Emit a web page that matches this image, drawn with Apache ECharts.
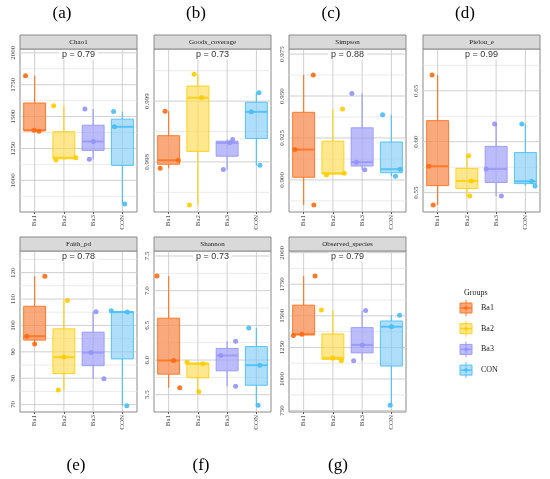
<!DOCTYPE html>
<html>
<head>
<meta charset="utf-8">
<script src="https://cdn.jsdelivr.net/npm/echarts@6/dist/echarts.min.js"></script>
<style>
  html, body { margin: 0; padding: 0; background: #fff; }
  #chart { width: 550px; height: 479px; }
</style>
</head>
<body>
<div id="chart"></div>
<script>
// 分组与指标
const groups = ['Ba1', 'Ba2', 'Ba3', 'CON'];
const metricNames = ['Chao1', 'Goods_coverage', 'Simpson', 'Pielou_e', 'Faith_pd', 'Shannon', 'Observed_species'];
const panelLetters = ['(a)', '(b)', '(c)', '(d)', '(e)', '(f)', '(g)'];
const pValues = ['0.79', '0.73', '0.88', '0.99', '0.78', '0.73', '0.79'];

// 每组三个样本
const chao1 = [[1385, 1393, 1820], [1160, 1178, 1585], [1165, 1305, 1560], [815, 1420, 1540]];
const goods = [[0.997896, 0.998027, 0.998835], [0.997291, 0.999055, 0.99944], [0.997874, 0.998313, 0.998368], [0.997945, 0.998824, 0.999137]];
const simpson = [[0.8851, 0.9181, 0.9625], [0.9030, 0.9040, 0.9422], [0.9060, 0.9106, 0.9515], [0.9022, 0.9064, 0.9388]];
const pielou = [[0.5379, 0.5759, 0.6654], [0.5467, 0.5615, 0.5861], [0.5467, 0.5733, 0.6175], [0.5566, 0.5611, 0.6175]];
const faith = [[93.0, 95.9, 118.6], [75.5, 88.0, 109.4], [79.8, 89.7, 105.2], [69.6, 105.05, 105.55]];
const shannon = [[5.600, 5.993, 7.213], [5.543, 5.945, 5.969], [5.624, 6.065, 6.270], [5.347, 5.926, 6.462]];
const observed = [[1345, 1354, 1815], [1144, 1167, 1546], [1144, 1270, 1543], [792, 1414, 1504]];

// 散点的水平抖动（类别宽度的比例）
const chao1Jitter = [[0.15, -0.02, -0.31], [-0.27, 0.41, -0.35], [-0.13, 0.01, -0.28], [0.08, -0.27, -0.30]];
const goodsJitter = [[-0.29, 0.33, -0.12], [-0.29, 0.13, -0.13], [-0.13, 0.09, 0.19], [0.12, -0.17, 0.09]];
const simpsonJitter = [[0.35, -0.30, 0.33], [-0.22, 0.39, 0.33], [0.09, -0.20, -0.35], [0.14, 0.30, -0.30]];
const pielouJitter = [[-0.15, -0.30, -0.19], [0.10, 0.15, 0.06], [0.18, -0.34, -0.05], [0.33, 0.21, -0.12]];
const faithJitter = [[0.00, -0.27, 0.35], [-0.19, 0.00, 0.12], [0.37, -0.07, 0.10], [0.15, 0.17, -0.38]];
const shannonJitter = [[0.38, 0.17, -0.40], [0.03, 0.17, -0.37], [0.29, -0.22, 0.29], [0.06, 0.12, -0.26]];
const observedJitter = [[-0.35, -0.06, 0.39], [0.29, 0.00, -0.39], [-0.29, 0.00, 0.12], [-0.04, 0.00, 0.28]];

// 刻度标签与次网格线
const chao1Ticks = [1000, 1250, 1500, 1750, 2000];
const goodsTicks = [0.998, 0.999];
const simpsonTicks = [0.900, 0.925, 0.950, 0.975];
const pielouTicks = [0.55, 0.60, 0.65];
const faithTicks = [70, 80, 90, 100, 110, 120];
const shannonTicks = [5.5, 6.0, 6.5, 7.0, 7.5];
const observedTicks = [750, 1000, 1250, 1500, 1750, 2000];

const chao1Minor = [875, 1125, 1375, 1625, 1875];
const goodsMinor = [0.9975, 0.9985, 0.9995];
const simpsonMinor = [0.8875, 0.9125, 0.9375, 0.9625];
const pielouMinor = [0.575, 0.625, 0.675];
const faithMinor = [75, 85, 95, 105, 115, 125];
const shannonMinor = [5.75, 6.25, 6.75, 7.25];
const observedMinor = [875, 1125, 1375, 1625, 1875];

const tickDecimals = [0, 3, 3, 2, 0, 1, 0];

const samples = [chao1, goods, simpson, pielou, faith, shannon, observed];
const jitters = [chao1Jitter, goodsJitter, simpsonJitter, pielouJitter, faithJitter, shannonJitter, observedJitter];
const majorTicks = [chao1Ticks, goodsTicks, simpsonTicks, pielouTicks, faithTicks, shannonTicks, observedTicks];
const minorTicks = [chao1Minor, goodsMinor, simpsonMinor, pielouMinor, faithMinor, shannonMinor, observedMinor];

// 颜色
const lineColors = ['#FF7A2A', '#FFD21F', '#9C9CF8', '#55C3F7'];
const fillColors = ['rgba(248,140,80,0.75)', 'rgba(255,218,80,0.65)', 'rgba(160,160,250,0.7)', 'rgba(130,205,248,0.65)'];
const pointColors = ['#FF6A13', '#FFCC00', '#9494FA', '#48BEF6'];
const majorGridColor = '#cfcfcf';
const minorGridColor = '#e6e6e6';

// 版面布局
const yRanges = [[752, 2030], [0.997176, 0.999857], [0.8809, 0.978], [0.531, 0.691], [67.2, 128.2], [5.251, 7.572], [739, 2013]];
const colLeft = [20, 154, 289, 423];
const panelWidth = 117;
const rowTop = [49, 251];
const rowHeight = [163, 161];
const stripHeight = 14;
const serif = '"Liberation Serif", "DejaVu Serif", serif';
const sans = '"Liberation Sans", Arial, sans-serif';

// R type 7 分位数
function quantile(sorted, p) {
  const h = (sorted.length - 1) * p;
  const lo = Math.floor(h);
  const hi = Math.min(lo + 1, sorted.length - 1);
  return sorted[lo] + (h - lo) * (sorted[hi] - sorted[lo]);
}

// ggplot风格的箱线统计量
function boxStats(values) {
  const s = values.slice().sort((a, b) => a - b);
  const q1 = quantile(s, 0.25), med = quantile(s, 0.5), q3 = quantile(s, 0.75);
  const iqr = q3 - q1;
  const inside = s.filter(v => v >= q1 - 1.5 * iqr && v <= q3 + 1.5 * iqr);
  return [inside[0], q1, med, q3, inside[inside.length - 1]];
}

// 绘制箱体（无须端横线，中位线加粗）；第一个箱体同时画出水平网格线
function makeRenderBox(k) {
  return function (params, api) {
    const i = api.value(0);
    const low = api.coord([i, api.value(1)]);
    const q1 = api.coord([i, api.value(2)]);
    const med = api.coord([i, api.value(3)]);
    const q3 = api.coord([i, api.value(4)]);
    const high = api.coord([i, api.value(5)]);
    const halfW = api.size([1, 0])[0] * 0.375;
    const cs = params.coordSys;
    const x = low[0];
    const c = lineColors[i];
    const children = [];
    if (params.dataIndex === 0) {
      minorTicks[k].concat(majorTicks[k]).forEach(v => {
        const y = api.coord([0, v])[1];
        if (y <= cs.y + 0.5 || y >= cs.y + cs.height - 0.5) return;
        const major = majorTicks[k].includes(v);
        children.push({
          type: 'line', shape: { x1: cs.x, y1: y, x2: cs.x + cs.width, y2: y },
          style: { stroke: major ? majorGridColor : minorGridColor, lineWidth: major ? 1 : 0.8 }
        });
      });
    }
    children.push(
      { type: 'line', shape: { x1: x, y1: cs.y, x2: x, y2: cs.y + cs.height }, style: { stroke: majorGridColor, lineWidth: 1 } },
      { type: 'line', shape: { x1: x, y1: high[1], x2: x, y2: q3[1] }, style: { stroke: c, lineWidth: 1.2 } },
      { type: 'line', shape: { x1: x, y1: q1[1], x2: x, y2: low[1] }, style: { stroke: c, lineWidth: 1.2 } },
      { type: 'rect', shape: { x: x - halfW, y: q3[1], width: 2 * halfW, height: q1[1] - q3[1] }, style: { fill: fillColors[i], stroke: c, lineWidth: 1 } },
      { type: 'line', shape: { x1: x - halfW, y1: med[1], x2: x + halfW, y2: med[1] }, style: { stroke: c, lineWidth: 2 } }
    );
    return { type: 'group', children };
  };
}

const grids = [], xAxes = [], yAxes = [], series = [], graphics = [];

metricNames.forEach((name, k) => {
  const row = k < 4 ? 0 : 1;
  const col = k < 4 ? k : k - 4;
  const left = colLeft[col], top = rowTop[row], h = rowHeight[row];
  grids.push({ left, top, width: panelWidth, height: h, show: true, borderColor: '#8a8a8a', borderWidth: 1 });

  // 类别轴（显示）与数值轴（散点抖动用，隐藏）
  xAxes.push({
    type: 'category', gridIndex: k, data: groups,
    axisLine: { show: false },
    axisTick: { show: true, alignWithLabel: true, length: 2, lineStyle: { color: '#555' } },
    axisLabel: { rotate: 90, fontSize: 7, fontFamily: serif, color: '#4d4d4d', margin: 3 },
    splitLine: { show: false }
  });
  xAxes.push({ type: 'value', gridIndex: k, min: -0.5, max: 3.5, show: false });

  yAxes.push({
    type: 'value', gridIndex: k, min: yRanges[k][0], max: yRanges[k][1],
    axisLine: { show: false },
    axisTick: { show: false },
    axisLabel: {
      customValues: majorTicks[k], rotate: 90, fontSize: 7, fontFamily: serif, color: '#4d4d4d', margin: 3,
      formatter: v => Number(v).toFixed(tickDecimals[k])
    },
    splitLine: { show: false }
  });

  const boxData = samples[k].map((vals, i) => [i].concat(boxStats(vals)));
  series.push({
    type: 'custom', xAxisIndex: 2 * k, yAxisIndex: k, renderItem: makeRenderBox(k),
    encode: { x: 0, y: [1, 2, 3, 4, 5] }, data: boxData, silent: true, z: 2
  });

  const pts = [];
  samples[k].forEach((vals, i) => vals.forEach((v, j) => pts.push([i + jitters[k][i][j], v, i])));
  series.push({
    type: 'scatter', xAxisIndex: 2 * k + 1, yAxisIndex: k, data: pts, symbolSize: 5, silent: true, z: 3,
    itemStyle: { color: p => pointColors[p.data[2]], opacity: 0.9 }
  });

  // 分面标题条
  graphics.push({
    type: 'rect', z: 100, shape: { x: left, y: top - stripHeight, width: panelWidth, height: stripHeight },
    style: { fill: '#d9d9d9', stroke: '#8a8a8a', lineWidth: 1 }
  });
  graphics.push({
    type: 'text', z: 101, x: left + panelWidth / 2, y: top - stripHeight / 2,
    style: { text: name, font: '7px ' + serif, fill: '#1a1a1a', textAlign: 'center', textVerticalAlign: 'middle' }
  });
  // p 值标签
  graphics.push({
    type: 'text', z: 101, x: left + panelWidth / 2, y: top + 6,
    style: {
      text: 'p = ' + pValues[k], font: '9px ' + sans, fill: '#333', textAlign: 'center', textVerticalAlign: 'middle',
      backgroundColor: '#fff', padding: [0, 3]
    }
  });
});

// 面板字母
const letterPos = [[62, 14], [196, 14], [331, 14], [465, 14], [76, 466], [201, 466], [338, 466]];
panelLetters.forEach((t, k) => {
  graphics.push({
    type: 'text', z: 101, x: letterPos[k][0], y: letterPos[k][1],
    style: { text: t, font: '17px ' + serif, fill: '#000', textAlign: 'center', textVerticalAlign: 'middle' }
  });
});

// 图例
graphics.push({
  type: 'text', z: 101, x: 464, y: 293,
  style: { text: 'Groups', font: '8px ' + serif, fill: '#1a1a1a', textVerticalAlign: 'middle' }
});
groups.forEach((g, i) => {
  const cx = 466, cy = 308 + i * 20.7;
  graphics.push({
    type: 'group', z: 101, children: [
      { type: 'line', shape: { x1: cx, y1: cy - 8, x2: cx, y2: cy + 8 }, style: { stroke: lineColors[i], lineWidth: 1 } },
      { type: 'rect', shape: { x: cx - 6, y: cy - 5, width: 12, height: 10 }, style: { fill: fillColors[i], stroke: lineColors[i], lineWidth: 1 } },
      { type: 'line', shape: { x1: cx - 6, y1: cy, x2: cx + 6, y2: cy }, style: { stroke: lineColors[i], lineWidth: 1.5 } },
      { type: 'circle', shape: { cx, cy, r: 1.8 }, style: { fill: pointColors[i] } }
    ]
  });
  graphics.push({
    type: 'text', z: 101, x: 481, y: cy,
    style: { text: g, font: '8px ' + serif, fill: '#1a1a1a', textVerticalAlign: 'middle' }
  });
});

const chart = echarts.init(document.getElementById('chart'), null, { renderer: 'canvas' });
chart.setOption({
  animation: false,
  backgroundColor: '#fff',
  grid: grids,
  xAxis: xAxes,
  yAxis: yAxes,
  series,
  graphic: graphics
});
</script>
</body>
</html>
